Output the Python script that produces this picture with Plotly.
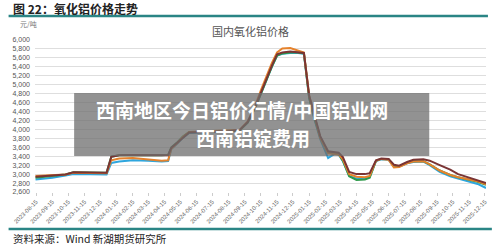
import plotly.graph_objects as go

# ---------------- data ----------------
dates = ["2023-08-14","2023-09-15","2023-10-10","2023-10-25","2023-12-27","2024-01-05","2024-01-20",
         "2024-02-15","2024-03-15","2024-04-10","2024-04-22","2024-04-28","2024-05-10","2024-05-20",
         "2024-06-01","2024-07-15","2024-08-15","2024-09-05","2024-09-20","2024-10-05","2024-10-15",
         "2024-10-25","2024-11-05","2024-11-15","2024-11-25","2024-12-10","2024-12-25","2025-01-05",
         "2025-01-15","2025-01-25","2025-02-05","2025-02-20","2025-03-05","2025-03-12","2025-03-20",
         "2025-04-01","2025-04-15","2025-05-01","2025-05-10","2025-05-22","2025-06-01","2025-06-15",
         "2025-06-25","2025-07-05","2025-07-20","2025-08-01","2025-08-20","2025-09-01","2025-09-20",
         "2025-10-10","2025-10-25","2025-11-15","2025-12-01","2025-12-17"]

blue = [2880,2920,2970,3000,2990,3250,3280,3310,3300,3280,3290,3560,3690,3810,3920,3940,3950,3980,
        4150,4500,4800,5100,5400,5650,5690,5710,5710,5690,4700,4220,3780,3360,3460,3440,3290,2960,
        2900,2910,2940,3290,3330,3320,3170,3170,3240,3270,3280,3200,3050,2950,2900,2830,2780,2690]
green = [2920,2950,2990,3040,3030,3390,3420,3430,3420,3420,3430,3600,3720,3840,3940,3950,3950,3980,
         4150,4500,4800,5100,5400,5650,5700,5720,5720,5700,4700,4250,3820,3480,3470,3450,3300,2950,
         2870,2880,2920,3300,3340,3330,3190,3170,3250,3290,3290,3220,3080,2980,2930,2870,2830,2760]
orange = [2960,2970,2990,3030,3020,3310,3350,3360,3330,3300,3310,3570,3700,3830,3940,3960,3970,3990,
          4180,4550,4870,5180,5480,5720,5810,5820,5760,5720,4760,4280,3810,3470,3460,3440,3330,3000,
          2940,2930,2960,3300,3340,3320,3150,3160,3240,3280,3290,3220,3080,2980,2930,2880,2840,2770]
brown = [2940,2960,2990,3040,3030,3390,3420,3430,3420,3410,3420,3590,3710,3830,3930,3950,3960,3990,
         4160,4520,4820,5120,5420,5680,5720,5740,5730,5710,4750,4300,3850,3510,3500,3480,3380,3050,
         3000,3000,3020,3310,3350,3340,3210,3190,3270,3320,3330,3300,3200,3100,3000,2920,2870,2800]

tick_labels = ["2023-08-15","2023-09-15","2023-10-15","2023-11-15","2023-12-15","2024-01-15",
               "2024-02-15","2024-03-15","2024-04-15","2024-05-15","2024-06-15","2024-07-15",
               "2024-08-15","2024-09-15","2024-10-15","2024-11-15","2024-12-15","2025-01-15",
               "2025-02-15","2025-03-15","2025-04-15","2025-05-15","2025-06-15","2025-07-15",
               "2025-08-15","2025-09-15","2025-10-15","2025-11-15","2025-12-15"]
y_ticks = list(range(2600, 6001, 200))

series = [("blue", blue, "#2ea6de"), ("green", green, "#2e9a4a"),
          ("orange", orange, "#e5822c"), ("brown", brown, "#7a3434")]

# ---------------- figure ----------------
W, H = 500, 249
ML, MR, MT, MB = 27, 12, 40, 57
PW, PH = W - ML - MR, H - MT - MB

def px(x):
    return (x - ML) / PW

def py(y):
    return (H - MB - y) / PH

fig = go.Figure()
for name, vals, col in series:
    fig.add_trace(go.Scatter(x=dates, y=vals, mode="lines", name=name,
                             line=dict(color=col, width=2), showlegend=False))

cjk = "Noto Sans CJK SC"
fig.update_layout(
    width=W, height=H, margin=dict(l=ML, r=MR, t=MT, b=MB),
    paper_bgcolor="white", plot_bgcolor="white",
    separators=".,",
    xaxis=dict(type="date", range=["2023-08-13", "2025-12-17"],
               tickmode="array", tickvals=tick_labels, ticktext=tick_labels,
               tickangle=-45, tickfont=dict(family="Liberation Sans", size=6, color="#666"),
               showgrid=False, ticks="outside", ticklen=3, tickcolor="#ccc",
               showline=False, zeroline=False),
    yaxis=dict(range=[2600, 6000], tickmode="array", tickvals=y_ticks,
               tickformat=",d", tickfont=dict(family="Liberation Sans", size=7, color="#555"),
               showgrid=True, gridcolor="#dedede", gridwidth=1, zeroline=False,
               showline=False, ticklabelstandoff=4),
)

shapes = [
    dict(type="line", xref="paper", yref="paper", x0=px(0), x1=px(490), y0=py(16), y1=py(16),
         line=dict(color="#2a8585", width=2.5)),
    dict(type="line", xref="paper", yref="paper", x0=px(0), x1=px(494), y0=py(229), y1=py(229),
         line=dict(color="#2a8585", width=2.5)),
    dict(type="rect", xref="paper", yref="paper", x0=px(67), x1=px(430), y0=py(156), y1=py(93),
         fillcolor="rgba(110,110,110,0.75)", line=dict(width=0), layer="above"),
]
fig.update_layout(shapes=shapes)

ann = [
    dict(text="<b>图 22：氧化铝价格走势</b>", x=px(2), y=py(8.5), xanchor="left", yanchor="middle",
         font=dict(family=cjk, size=12, color="#222")),
    dict(text="国内氧化铝价格", x=px(247), y=py(31.5), xanchor="center", yanchor="middle",
         font=dict(family=cjk, size=11, color="#555")),
    dict(text="元/吨", x=px(10), y=py(24), xanchor="left", yanchor="middle",
         font=dict(family=cjk, size=7, color="#777")),
    dict(text="资料来源：Wind 新湖期货研究所", x=px(2), y=py(238.5), xanchor="left", yanchor="middle",
         font=dict(family=cjk, size=10.5, color="#222")),
    dict(text="<b>西南地区今日铝价行情/中国铝业网</b>", x=px(239), y=py(109), xanchor="center",
         yanchor="middle", font=dict(family=cjk, size=19, color="white")),
    dict(text="<b>西南铝锭费用</b>", x=px(250), y=py(137), xanchor="center",
         yanchor="middle", font=dict(family=cjk, size=19, color="white")),
]
for a in ann:
    a.update(xref="paper", yref="paper", showarrow=False)
fig.update_layout(annotations=ann)

fig.write_html("out.html")
